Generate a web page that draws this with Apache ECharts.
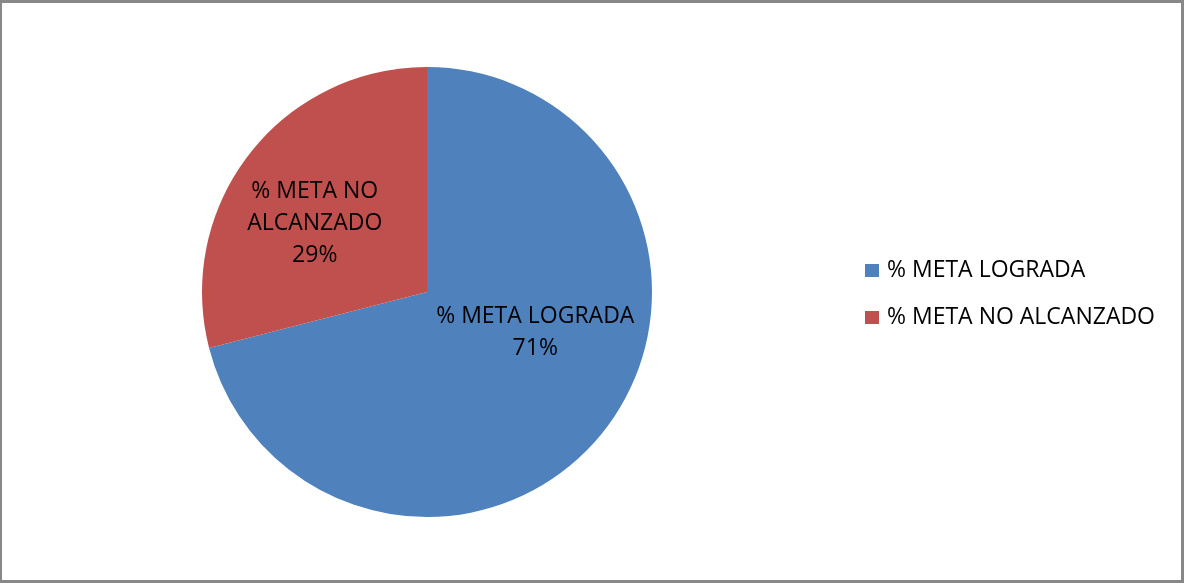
<!DOCTYPE html>
<html>
<head>
<meta charset="utf-8">
<script src="https://cdn.jsdelivr.net/npm/echarts@6/dist/echarts.min.js"></script>
<style>
  html, body { margin: 0; padding: 0; background: #fff; }
  #chart {
    width: 1184px;
    height: 583px;
    box-sizing: border-box;
    border-top: 3px solid #888;
    border-left: 2px solid #888;
    border-bottom: 3px solid #888;
    border-right: 3px solid #888;
  }
</style>
</head>
<body>
<div id="chart"></div>
<script>
const categories = ["% META LOGRADA", "% META NO ALCANZADO"];
const labelNames = ["% META LOGRADA", "% META NO\nALCANZADO"];
const values = [71, 29];
const colors = ["#4F81BD", "#C0504D"];
// nudges so the inner labels sit where Excel put them
const labelShift = [[17, -30], [-21, 2]];

const chart = echarts.init(document.getElementById("chart"));
const fontFamily = "'Open Sans', 'Liberation Sans', sans-serif";

chart.setOption({
  animation: false,
  legend: {
    orient: "vertical",
    left: 863,
    top: 255,
    padding: 0,
    itemWidth: 14,
    itemHeight: 13,
    itemGap: 22,
    icon: "rect",
    data: categories,
    textStyle: {
      fontFamily: fontFamily,
      fontSize: 23,
      lineHeight: 25,
      color: "#000",
      padding: [0, 0, 0, 3],
    },
  },
  series: [
    {
      type: "pie",
      center: [425, 289],
      radius: 225,
      startAngle: 90,
      clockwise: true,
      data: categories.map((name, i) => ({
        name: name,
        value: values[i],
        itemStyle: { color: colors[i] },
        label: { formatter: labelNames[i] + "\n{d}%" },
      })),
      label: {
        position: "inner",
        fontFamily: fontFamily,
        fontSize: 23,
        lineHeight: 32,
        color: "#000",
      },
      labelLayout: function (params) {
        const s = labelShift[params.dataIndex];
        return { dx: s[0], dy: s[1] };
      },
      labelLine: { show: false },
      itemStyle: { borderWidth: 0 },
      emphasis: { disabled: true },
    },
  ],
});
</script>
</body>
</html>
